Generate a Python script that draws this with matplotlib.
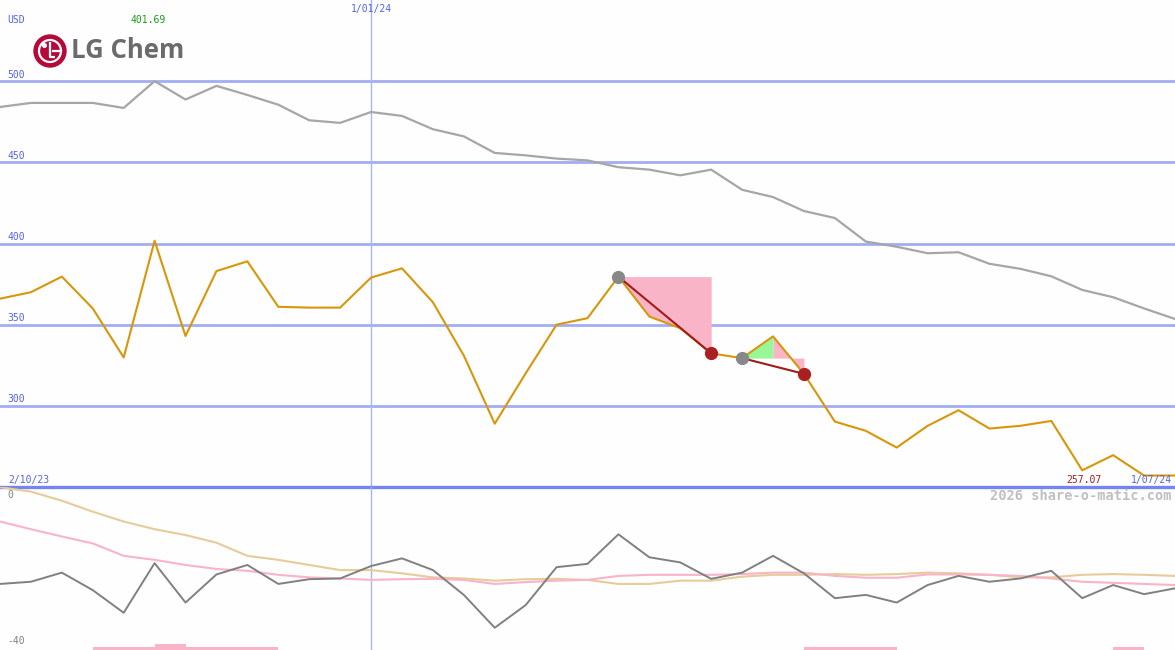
import numpy as np
import matplotlib
matplotlib.use("Agg")
import matplotlib.pyplot as plt
from matplotlib.patches import Circle

# weekly closes, 2/10/23 .. 1/07/24 (USD)
price = [366, 370, 379.6, 360, 329.8, 401.69, 343, 383, 389, 361,
         360.5, 360.5, 379, 384.7, 363.8, 331, 289, 320, 350, 354,
         379.6, 355, 347.8, 332.3, 329.4, 342.8, 319.7, 290.3, 284.6, 274.3,
         287.7, 297.3, 286, 287.7, 290.7, 260.3, 269.6, 257.07, 257.07]
# grey average line in the price panel
avg = [484.1, 486.6, 486.6, 486.6, 483.5, 500, 488.7, 497.1, 491.5, 485.5,
       475.9, 474.3, 481, 478.6, 470.4, 466, 455.8, 454.3, 452.3, 451.2,
       447, 445.5, 442, 445.5, 433.1, 428.6, 420, 415.7, 401.2, 398,
       394, 394.6, 387.5, 384.4, 379.8, 371.4, 366.9, 360, 353.5]
# lower panel indicator lines
osc = [-23, -22.4, -19.9, -24.7, -30.9, -17.3, -28.1, -20.4, -17.8, -23,
       -21.7, -21.5, -18.1, -16, -19.2, -26, -35, -28.8, -18.4, -17.5,
       -9.4, -15.7, -17.1, -21.6, -19.9, -15.3, -20.1, -26.9, -26, -28.1,
       -23.3, -20.8, -22.4, -21.5, -19.4, -26.9, -23.3, -25.8, -24.2]
pink_line = [-5.9, -8.0, -10.0, -11.9, -15.3, -16.4, -17.8, -18.9, -19.4, -20.5,
             -21.2, -21.5, -21.9, -21.7, -21.6, -21.9, -23, -22.5, -22.1, -21.9,
             -20.8, -20.5, -20.5, -20.5, -20.3, -19.9, -19.9, -20.8, -21.3, -21.3,
             -20.4, -20.4, -20.5, -20.8, -21.5, -22.4, -22.7, -23, -23.3]
tan_line = [3.5, 2.3, -0.2, -3.2, -5.9, -8.0, -9.6, -11.7, -15.3, -16.4,
            -17.8, -19.2, -19.2, -20.1, -21.2, -21.5, -22.1, -21.7, -21.6, -21.9,
            -23, -23, -22.1, -22.1, -21, -20.5, -20.5, -20.3, -20.5, -20.3,
            -19.9, -20.1, -20.5, -21.2, -21.2, -20.5, -20.3, -20.5, -20.8]
# bottom strip bars (one per week interval)
strip = [0, 0, 0, 1, 1, 2, 1, 1, 1, 0,
         0, 0, 0, 0, 0, 0, 0, 0, 0, 0,
         0, 0, 0, 0, 0, 0, 1, 1, 1, 0,
         0, 0, 0, 0, 0, 0, 1, 0]
# drawdown markers (start index, end index)
drops = [(20, 23), (24, 26)]

grid_vals = [300, 350, 400, 450, 500]
date_first, date_mid, date_last = "2/10/23", "1/01/24", "1/07/24"
mid_idx = 12

BG = "#fdfefd"
GRID = "#a3adf2"
TXT = "#5563e8"
MONO = "DejaVu Sans Mono"

x = np.arange(len(price))
W, H = 1175, 650

fig = plt.figure(figsize=(W / 100, H / 100), dpi=100, facecolor=BG)
ax = fig.add_axes([0, 163 / H, 1, 487 / H], facecolor=BG)
ax2 = fig.add_axes([0, 0, 1, 163 / H], facecolor=BG)
ax3 = fig.add_axes([0, 0, 1, 163 / H], facecolor="none")
for a in (ax, ax2, ax3):
    a.set_xlim(0, len(price) - 1)
    a.axis("off")
ax.set_ylim(250, 550)
ax2.set_ylim(-41.1, 3.56)
ax3.set_ylim(0, 163 / 3)

# price panel
for v in grid_vals:
    ax.axhline(v, color=GRID, lw=2, zorder=1)
    ax.text(0.006, v + 1, str(v), transform=ax.get_yaxis_transform(),
            color=TXT, fontsize=7, family=MONO, va="bottom")
ax.axhline(250, color="#7684ee", lw=2.4, zorder=6, clip_on=False)
ax.axvline(mid_idx, color="#a8b4f8", lw=1, zorder=1)
ax2.axvline(mid_idx, color="#a8b4f8", lw=1, zorder=1)

ax.plot(x, avg, color="#a6a6a6", lw=1.6, zorder=2)

p = np.array(price)
for s, e in drops:
    xs = x[s:e + 1]
    lvl = p[s]
    seg = p[s:e + 1]
    if seg[1] > lvl:
        ax.fill_between(xs[:2], seg[:2], lvl, color="#98f898", lw=0, zorder=2)
        ax.fill_between(xs[1:], seg[1:], lvl, color="#f9b4c8", lw=0, zorder=2)
    else:
        ax.fill_between(xs, seg, lvl, color="#f9b4c8", lw=0, zorder=2)

ax.plot(x, price, color="#d8960a", lw=1.5, zorder=3)
for s, e in drops:
    ax.plot([s, e], [p[s], p[e]], color="#a01c1c", lw=1.5, zorder=4)
    ax.plot(s, p[s], "o", color="#888888", ms=8.5, zorder=5)
    ax.plot(e, p[e], "o", color="#aa2020", ms=8.5, zorder=5)

imax = int(np.argmax(p))
ax.text(imax - 0.2, 1 - 20 / 487, f"{p.max():.2f}", transform=ax.get_xaxis_transform(),
        color="#1a9a1a", fontsize=7, family=MONO, ha="center", va="center")
ax.text(mid_idx, 1 - 9 / 487, date_mid, transform=ax.get_xaxis_transform(),
        color=TXT, fontsize=7, family=MONO, ha="center", va="center")

fig.text(7 / W, 1 - 20 / H, "USD", color=TXT, fontsize=7, family=MONO, va="center")
fig.text(8 / W, 1 - 480 / H, date_first, color=TXT, fontsize=7, family=MONO, va="center")
fig.text(1172 / W, 1 - 480 / H, date_last, color=TXT, fontsize=7, family=MONO,
         va="center", ha="right")
fig.text(1102 / W, 1 - 480 / H, f"{p.min():.2f}", color="#a02020", fontsize=7,
         family=MONO, va="center", ha="right")
fig.text(1172 / W, 1 - 496 / H, "2026 share-o-matic.com", color="#c0c0c0",
         fontsize=9.8, family=MONO, weight="bold", va="center", ha="right")

# lower panel
ax2.plot(x, tan_line, color="#e6cc9a", lw=1.5, zorder=2)
ax2.plot(x, pink_line, color="#f8b4c8", lw=1.5, zorder=2)
ax2.plot(x, osc, color="#808080", lw=1.4, zorder=3)
ax2.text(0.006, 0, "0", transform=ax2.get_yaxis_transform(), color="#808080",
         fontsize=7, family=MONO, va="bottom")
ax2.text(0.006, -40, "-40", transform=ax2.get_yaxis_transform(), color="#808080",
         fontsize=7, family=MONO, va="bottom")
ax3.bar(x[:-1], strip, width=1, align="edge", color="#f9b4c8", lw=0)

# logo
lg = fig.add_axes([0, 0, 1, 1], facecolor="none")
lg.set_xlim(0, W)
lg.set_ylim(H, 0)
lg.axis("off")
lg.add_patch(Circle((50, 51), 16, color="#b5093a"))
lg.add_patch(Circle((50, 51), 11, fill=False, ec="white", lw=1.6))
lg.add_patch(Circle((44.5, 45.5), 1.8, color="white"))
lg.plot([50, 50, 55], [42, 57, 57], color="white", lw=1.6, solid_capstyle="butt")
lg.plot([53, 61], [51, 51], color="white", lw=1.6)
lg.text(71, 51, "LG Chem", color="#6b6b6b", fontsize=18.5, weight="bold",
        family="Open Sans", va="center", ha="left")

fig.savefig("out.png", dpi=100, facecolor=BG)
